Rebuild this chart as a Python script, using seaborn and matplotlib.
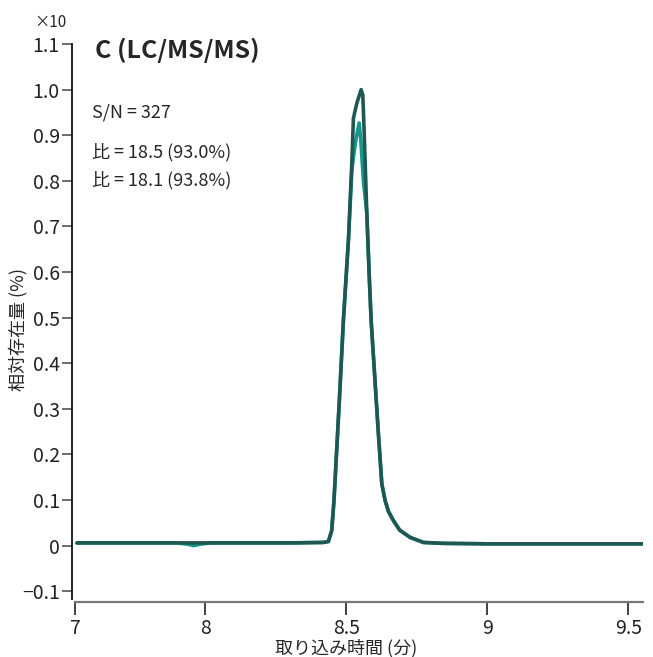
import numpy as np
import pandas as pd
import matplotlib
matplotlib.use("Agg")
import matplotlib.pyplot as plt
import seaborn as sns

# Datos leidos del cromatograma (tiempo en min, abundancia relativa x10)
# traza cualificadora (verde azulado)
tiempo_q = [7.546, 7.90, 7.94, 7.96, 7.98, 8.02, 8.30, 8.419, 8.437, 8.449, 8.457, 8.476,
            8.4904, 8.5082, 8.5202, 8.5259, 8.536, 8.5461, 8.5521, 8.5613, 8.5734,
            8.5826, 8.5887, 8.6145, 8.6266, 8.6383, 8.650, 8.6677, 8.690, 8.7270,
            8.7741, 8.844, 9.0, 9.553]
abund_q = [0.006, 0.006, 0.003, 0.000, 0.003, 0.006, 0.006, 0.007, 0.009, 0.033, 0.099, 0.318,
           0.494, 0.670, 0.820, 0.852, 0.895, 0.927, 0.889, 0.800, 0.729,
           0.582, 0.494, 0.245, 0.135, 0.099, 0.075, 0.055, 0.034, 0.018,
           0.007, 0.005, 0.004, 0.004]

# traza objetivo (verde oscuro)
tiempo_t = [7.546, 8.30, 8.419, 8.437, 8.449, 8.457, 8.476, 8.4904, 8.5082, 8.5202,
            8.5259, 8.5379, 8.5532, 8.5592, 8.5638, 8.5734, 8.5826, 8.5887, 8.6145,
            8.6266, 8.6383, 8.650, 8.6677, 8.690, 8.7270, 8.7741, 8.844, 9.0, 9.553]
abund_t = [0.006, 0.006, 0.007, 0.009, 0.033, 0.099, 0.318, 0.494, 0.670, 0.839,
           0.937, 0.970, 1.000, 0.988, 0.911, 0.729, 0.582, 0.494, 0.245,
           0.135, 0.099, 0.075, 0.055, 0.034, 0.018, 0.007, 0.005, 0.004, 0.004]

xticks_pos = [7.539, 8, 8.5, 9, 9.5]
xticks_lab = ['7', '8', '8.5', '9', '9.5']
yticks_pos = [-0.1, 0, 0.1, 0.2, 0.3, 0.4, 0.5, 0.6, 0.7, 0.8, 0.9, 1.0, 1.1]
yticks_lab = ['\u22120.1', '0', '0.1', '0.2', '0.3', '0.4', '0.5', '0.6', '0.7', '0.8', '0.9', '1.0', '1.1']

sns.set_style('white')
plt.rcParams['font.family'] = ['Noto Sans CJK JP', 'DejaVu Sans']

fig = plt.figure(figsize=(6.53, 6.57), dpi=100)
ax = fig.add_axes([0.1149, 0.0883, 0.870, 0.8447])

df_q = pd.DataFrame({'t': tiempo_q, 'a': abund_q})
df_t = pd.DataFrame({'t': tiempo_t, 'a': abund_t})
sns.lineplot(data=df_q, x='t', y='a', ax=ax, color='#13998a', lw=2.6, estimator=None)
sns.lineplot(data=df_t, x='t', y='a', ax=ax, color='#1f5752', lw=2.6, estimator=None)

ax.set_xlim(7.539, 9.553)
ax.set_ylim(-0.117, 1.1)
ax.set_xticks(xticks_pos)
ax.set_xticklabels(xticks_lab)
ax.set_yticks(yticks_pos)
ax.set_yticklabels(yticks_lab)
ax.tick_params(axis='y', direction='out', length=7, width=1.2, color='#555555', pad=2,
               left=True, labelsize=14, labelcolor='#222222')
ax.tick_params(axis='x', direction='out', length=9, width=1.2, color='#222222', pad=3,
               bottom=True, labelsize=14, labelcolor='#222222')

sns.despine(ax=ax, offset=2)
ax.spines['left'].set_color('#111111')
ax.spines['left'].set_linewidth(1.3)
ax.spines['bottom'].set_color('#777777')
ax.spines['bottom'].set_linewidth(1.6)

ax.set_xlabel('取り込み時間 (分)', fontsize=13, va='center')
ax.set_ylabel('相対存在量 (%)', fontsize=13, va='center')
ax.xaxis.set_label_coords(0.477, -0.088)
ax.yaxis.set_label_coords(-0.100, 0.486)

fig.text(0.053, 0.966, '×10', fontsize=11, va='center', ha='left')
fig.text(0.145, 0.924, 'C (LC/MS/MS)', fontsize=18, fontweight='bold', va='center', ha='left')
fig.text(0.141, 0.829, 'S/N = 327', fontsize=13, va='center', ha='left')
fig.text(0.141, 0.768, '比 = 18.5 (93.0%)', fontsize=13, va='center', ha='left')
fig.text(0.141, 0.726, '比 = 18.1 (93.8%)', fontsize=13, va='center', ha='left')

fig.savefig('out.png', dpi=100)
